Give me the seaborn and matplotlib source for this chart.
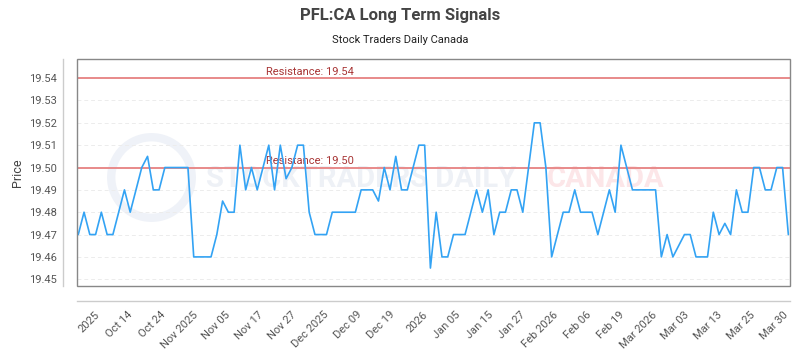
import numpy as np
import pandas as pd
import seaborn as sns
import matplotlib.pyplot as plt
from matplotlib.patches import Rectangle

# price series (one value per session)
prices = [
    19.47, 19.48, 19.47, 19.47, 19.48, 19.47, 19.47, 19.48, 19.49, 19.48,
    19.49, 19.50, 19.505, 19.49, 19.49, 19.50, 19.50, 19.50, 19.50, 19.50,
    19.46, 19.46, 19.46, 19.46, 19.47, 19.485, 19.48, 19.48, 19.51, 19.49,
    19.50, 19.49, 19.50, 19.51, 19.49, 19.51, 19.495, 19.50, 19.51, 19.51,
    19.48, 19.47, 19.47, 19.47, 19.48, 19.48, 19.48, 19.48, 19.48, 19.49,
    19.49, 19.49, 19.485, 19.50, 19.49, 19.505, 19.49, 19.49, 19.50, 19.51,
    19.51, 19.455, 19.48, 19.46, 19.46, 19.47, 19.47, 19.47, 19.48, 19.49,
    19.48, 19.49, 19.47, 19.48, 19.48, 19.49, 19.49, 19.48, 19.50, 19.52,
    19.52, 19.50, 19.46, 19.47, 19.48, 19.48, 19.49, 19.48, 19.48, 19.48,
    19.47, 19.48, 19.49, 19.48, 19.51, 19.50, 19.49, 19.49, 19.49, 19.49,
    19.49, 19.46, 19.47, 19.46, 19.465, 19.47, 19.47, 19.46, 19.46, 19.46,
    19.48, 19.47, 19.475, 19.47, 19.49, 19.48, 19.48, 19.50, 19.50, 19.49,
    19.49, 19.50, 19.50, 19.47,
]
tick_labels = [
    "2025", "Oct 14", "Oct 24", "Nov 2025", "Nov 05", "Nov 17", "Nov 27",
    "Dec 2025", "Dec 09", "Dec 19", "2026", "Jan 05", "Jan 15", "Jan 27",
    "Feb 2026", "Feb 06", "Feb 19", "Mar 2026", "Mar 03", "Mar 13",
    "Mar 25", "Mar 30",
]
resistance = [19.54, 19.50]
y_ticks = [19.45, 19.46, 19.47, 19.48, 19.49, 19.50, 19.51, 19.52, 19.53, 19.54]

df = pd.DataFrame({"idx": np.arange(len(prices)), "price": prices})

sns.set_style("white")
plt.rcParams["font.family"] = ["Roboto", "DejaVu Sans"]

fig = plt.figure(figsize=(8, 3.5), dpi=100)
ax = fig.add_axes([0.0966, 0.183, 0.891, 0.648])

# detached axis lines first (moving spines resets the ticks)
for side in ["top", "right"]:
    ax.spines[side].set_visible(False)
ax.spines["left"].set_position(("outward", 10))
ax.spines["bottom"].set_position(("outward", 11))
for side in ["left", "bottom"]:
    ax.spines[side].set_color("#cccccc")
    ax.spines[side].set_linewidth(1)

# faint watermark
ax.plot([0.103], [0.48], "o", transform=ax.transAxes, ms=58, mfc="none",
        mec="#eff2f8", mew=6, zorder=0, clip_on=False)
ax.text(0.18, 0.47, "STOCKTRADERS DAILY", transform=ax.transAxes,
        fontsize=21, color="#eef1f6", va="center", ha="left", zorder=0,
        fontweight="bold")
ax.text(0.659, 0.47, "CANADA", transform=ax.transAxes,
        fontsize=21, color="#fce6e8", va="center", ha="left", zorder=0,
        fontweight="bold")

for yv in y_ticks:
    ax.axhline(yv, color="#ececec", lw=0.7, ls=(0, (4, 3)), zorder=1)

for r in resistance:
    ax.axhline(r, color="#e88a8a", lw=1.4, zorder=2)
    ax.text(40.2, r + 0.0005, f"Resistance: {r:.2f}", color="#a83535",
            fontsize=8, ha="center", va="bottom", zorder=3)

sns.lineplot(data=df, x="idx", y="price", ax=ax, color="#33a3f4",
             lw=1.2, zorder=4)

ax.set_xlim(-0.17, 123.3)
ax.set_ylim(19.447, 19.5485)
ax.set_yticks(y_ticks)
ax.set_yticklabels([f"{v:.2f}" for v in y_ticks])
ax.set_xticks(np.linspace(2.8, 122, len(tick_labels)))
ax.set_xticklabels(tick_labels, rotation=45, ha="right",
                   rotation_mode="anchor")
ax.tick_params(axis="both", length=0, labelsize=8, colors="#555555")
ax.tick_params(axis="x", pad=6)
ax.tick_params(axis="y", pad=5)
ax.set_xlabel("")
ax.set_ylabel("Price", fontsize=9, color="#444444", labelpad=3)

ax.add_patch(Rectangle((0, 0), 1, 1, transform=ax.transAxes, fill=False,
                       ec="#888888", lw=1, zorder=5, clip_on=False))

fig.text(0.5, 0.955, "PFL:CA Long Term Signals", ha="center", va="center",
         fontsize=12, fontweight="bold", color="#444444")
fig.text(0.5, 0.885, "Stock Traders Daily Canada", ha="center",
         va="center", fontsize=8, color="#222222")

fig.savefig("out.png", dpi=100)
